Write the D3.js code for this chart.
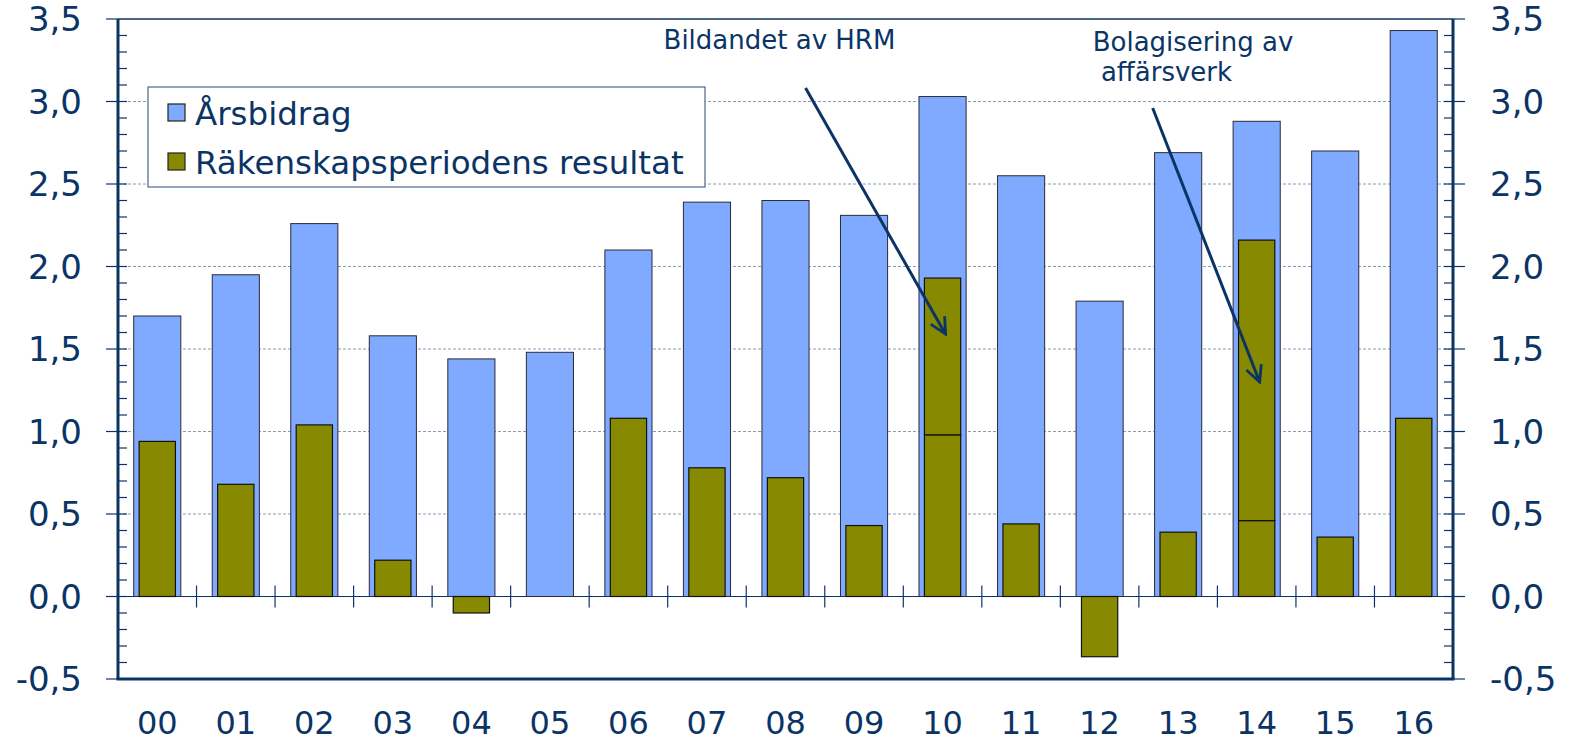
<!DOCTYPE html>
<html>
<head>
<meta charset="utf-8">
<script src="https://cdn.jsdelivr.net/npm/d3@7"></script>
<style>
  body { margin: 0; background: #fff; }
  svg { display: block; font-family: "DejaVu Sans", Verdana, sans-serif; }
</style>
</head>
<body>
<svg class="chart"></svg>
<script>
const years = ["00","01","02","03","04","05","06","07","08","09","10","11","12","13","14","15","16"];
// Årsbidrag
const arsbidrag = [1.70, 1.95, 2.26, 1.58, 1.44, 1.48, 2.10, 2.39, 2.40, 2.31, 3.03, 2.55, 1.79, 2.69, 2.88, 2.70, 3.43];
// Räkenskapsperiodens resultat
const resultat = [0.94, 0.68, 1.04, 0.22, -0.10, 0.00, 1.08, 0.78, 0.72, 0.43, 0.98, 0.44, -0.365, 0.39, 0.46, 0.36, 1.08];
// extra part of the result stacked on top (HRM, bolagisering)
const extra = [0, 0, 0, 0, 0, 0, 0, 0, 0, 0, 0.95, 0, 0, 0, 1.70, 0, 0];
const yTicks = [-0.5, 0, 0.5, 1, 1.5, 2, 2.5, 3, 3.5];
const legendLabels = ["Årsbidrag", "Räkenskapsperiodens resultat"];

const W = 1573, H = 741;
const margin = {top: 19, right: 120, bottom: 62, left: 118},
      width = W - margin.left - margin.right,
      height = H - margin.top - margin.bottom;

const navy = "#0b3466";
const blue = "#80aaff";
const olive = "#878a00";
// swedish decimal comma, plain hyphen for minus
const fmt = d => (d < 0 ? "-" : "") + Math.abs(d).toFixed(1).replace(".", ",");

const svg = d3.select(".chart").attr("width", W).attr("height", H);
const chart = svg.append("g").attr("transform", "translate(" + margin.left + "," + margin.top + ")");

let x = d3.scaleBand().domain(years).range([0, width]).paddingInner(0.4).paddingOuter(0.2);
let y = d3.scaleLinear().domain([-0.5, 3.5]).range([height, 0]);
const step = x.step();

// dashed gridlines
chart.append("g")
  .selectAll("line")
  .data(yTicks.filter(d => d > 0 && d < 3.5))
  .enter().append("line")
  .attr("x1", 0).attr("x2", width)
  .attr("y1", d => y(d)).attr("y2", d => y(d))
  .attr("stroke", "#8a9cb4")
  .attr("stroke-width", 1)
  .attr("stroke-dasharray", "3,2");

// zero line
chart.append("line")
  .attr("x1", 0).attr("x2", width)
  .attr("y1", y(0)).attr("y2", y(0))
  .attr("stroke", navy).attr("stroke-width", 1.2);

// category ticks on zero line
chart.append("g")
  .selectAll("line")
  .data(years.slice(1))
  .enter().append("line")
  .attr("x1", (d, i) => (i + 1) * step).attr("x2", (d, i) => (i + 1) * step)
  .attr("y1", y(0) - 11).attr("y2", y(0) + 11)
  .attr("stroke", navy).attr("stroke-width", 1.2);

// Årsbidrag bars
chart.selectAll(".bar")
  .data(arsbidrag)
  .enter().append("rect")
  .attr("class", "bar")
  .attr("x", (d, i) => x(years[i]))
  .attr("y", d => y(d))
  .attr("width", x.bandwidth())
  .attr("height", d => y(0) - y(d))
  .attr("fill", blue)
  .attr("stroke", "#2a2a3a")
  .attr("stroke-width", 1);

const innerW = x.bandwidth() * 0.77;
const innerOff = (x.bandwidth() - innerW) / 2;

// result bars
chart.selectAll(".res")
  .data(resultat)
  .enter().append("rect")
  .attr("class", "res")
  .attr("x", (d, i) => x(years[i]) + innerOff)
  .attr("y", d => y(Math.max(d, 0)))
  .attr("width", innerW)
  .attr("height", d => Math.abs(y(d) - y(0)))
  .attr("fill", olive)
  .attr("stroke", "#111")
  .attr("stroke-width", 1.2);

// stacked extra part
chart.selectAll(".extra")
  .data(extra.map((e, i) => ({e: e, base: resultat[i], i: i})).filter(d => d.e > 0))
  .enter().append("rect")
  .attr("class", "extra")
  .attr("x", d => x(years[d.i]) + innerOff)
  .attr("y", d => y(d.base + d.e))
  .attr("width", innerW)
  .attr("height", d => y(d.base) - y(d.base + d.e))
  .attr("fill", olive)
  .attr("stroke", "#111")
  .attr("stroke-width", 1.2);

// y axes with minor ticks
const minor = d3.range(-5, 36).map(d => d / 10);
[0, width].forEach((ax, k) => {
  const dir = k === 0 ? 1 : -1;
  chart.append("g").selectAll("line")
    .data(minor)
    .enter().append("line")
    .attr("x1", ax).attr("x2", ax + dir * 9)
    .attr("y1", d => y(d)).attr("y2", d => y(d))
    .attr("stroke", navy).attr("stroke-width", 1.2);
  chart.append("g").selectAll("line")
    .data(yTicks)
    .enter().append("line")
    .attr("x1", ax).attr("x2", ax - dir * 12)
    .attr("y1", d => y(d)).attr("y2", d => y(d))
    .attr("stroke", navy).attr("stroke-width", 1.2);
  chart.append("g").selectAll("text")
    .data(yTicks)
    .enter().append("text")
    .attr("x", k === 0 ? -36 : width + 37)
    .attr("y", d => y(d))
    .attr("dy", "0.36em")
    .attr("text-anchor", k === 0 ? "end" : "start")
    .attr("fill", navy)
    .style("font-size", "34px")
    .text(fmt);
});

// plot border
chart.append("line").attr("x1", 0).attr("x2", width).attr("y1", 0).attr("y2", 0)
  .attr("stroke", "#4d6688").attr("stroke-width", 2);
chart.append("line").attr("x1", -1.5).attr("x2", width + 1.5).attr("y1", height).attr("y2", height)
  .attr("stroke", navy).attr("stroke-width", 3);
chart.append("line").attr("x1", 0).attr("x2", 0).attr("y1", 0).attr("y2", height)
  .attr("stroke", navy).attr("stroke-width", 3);
chart.append("line").attr("x1", width).attr("x2", width).attr("y1", 0).attr("y2", height)
  .attr("stroke", navy).attr("stroke-width", 3);

// x labels
chart.append("g").selectAll("text")
  .data(years)
  .enter().append("text")
  .attr("x", d => x(d) + x.bandwidth() / 2)
  .attr("y", height + 55)
  .attr("text-anchor", "middle")
  .attr("fill", navy)
  .style("font-size", "32px")
  .text(d => d);

// legend
const legend = chart.append("g").attr("transform", "translate(30,68)");
legend.append("rect")
  .attr("width", 557).attr("height", 100)
  .attr("fill", "#fff").attr("stroke", "#4d6688").attr("stroke-width", 1.2);
legend.selectAll(".sw")
  .data(legendLabels)
  .enter().append("rect")
  .attr("x", 20).attr("y", (d, i) => 17 + i * 49)
  .attr("width", 17).attr("height", 17)
  .attr("fill", (d, i) => i === 0 ? blue : olive)
  .attr("stroke", "#222").attr("stroke-width", 1.2);
legend.selectAll(".lt")
  .data(legendLabels)
  .enter().append("text")
  .attr("x", 47).attr("y", (d, i) => 26 + i * 49)
  .attr("dy", "0.36em")
  .attr("fill", navy)
  .style("font-size", "32.5px")
  .text(d => d);

// annotations
svg.append("defs").append("marker")
  .attr("id", "arrow")
  .attr("viewBox", "0 0 10 10")
  .attr("refX", 9).attr("refY", 5)
  .attr("markerWidth", 20).attr("markerHeight", 20)
  .attr("markerUnits", "userSpaceOnUse")
  .attr("orient", "auto")
  .append("path")
  .attr("d", "M1,1 L9,5 L1,9")
  .attr("fill", "none")
  .attr("stroke", navy)
  .attr("stroke-width", 1.4);

const notes = [
  {cat: "10", tip: 1.59, dx: 3, sx: -140, sy: 69, lines: ["Bildandet av HRM"], tx: -282, ty: 30},
  {cat: "14", tip: 1.30, dx: 3, sx: -107, sy: 89, lines: ["Bolagisering av", " affärsverk"], tx: -167, ty: 32}
];
notes.forEach(n => {
  const cx = x(n.cat) + x.bandwidth() / 2 + n.dx;
  chart.append("line")
    .attr("x1", cx + n.sx).attr("y1", n.sy)
    .attr("x2", cx).attr("y2", y(n.tip))
    .attr("stroke", navy).attr("stroke-width", 3)
    .attr("marker-end", "url(#arrow)");
  chart.append("text")
    .attr("x", cx + n.tx).attr("y", n.ty)
    .attr("fill", navy)
    .style("font-size", "26px")
    .style("white-space", "pre")
    .selectAll("tspan")
    .data(n.lines)
    .enter().append("tspan")
    .attr("x", cx + n.tx)
    .attr("dy", (d, i) => i === 0 ? 0 : 30)
    .text(d => d);
});
</script>
</body>
</html>
